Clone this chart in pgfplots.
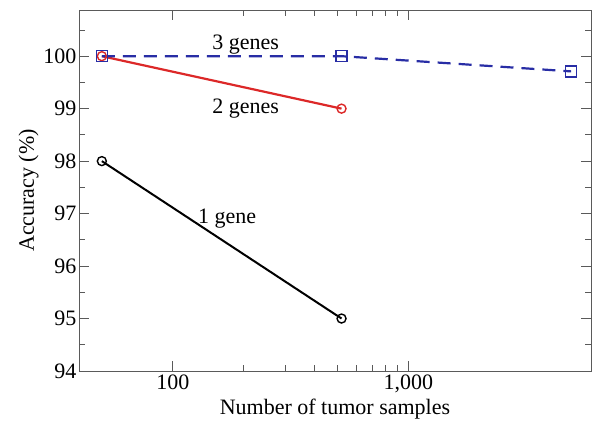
\documentclass[border=0pt]{standalone}
\usepackage{fontspec}
\setmainfont{Liberation Serif}
\usepackage{pgfplots}
\pgfplotsset{compat=1.18}
\definecolor{myred}{RGB}{220,40,40}
\definecolor{myblue}{RGB}{40,45,165}
\definecolor{axgray}{RGB}{90,90,90}
\begin{document}
\begin{tikzpicture}
\begin{axis}[
  name=ax,
  xmode=log,
  scale only axis,
  width=512pt, height=361pt,
  xmin=40, xmax=5950,
  ymin=94, ymax=100.88,
  xtick={100,1000},
  xticklabels={100,{1,000}},
  ytick={94,95,96,97,98,99,100},
  minor ytick={94.5,95.5,96.5,97.5,98.5,99.5,100.5},
  tick align=inside,
  major tick length=10pt,
  minor tick length=6pt,
  tick style={axgray, line width=0.8pt},
  axis line style={axgray, line width=0.9pt},
  /pgf/number format/assume math mode=true,
  ticklabel style={font=\fontsize{22}{24}\selectfont},
  xticklabel style={yshift=0pt},
  yticklabel style={xshift=1pt},
  label style={font=\fontsize{22}{24}\selectfont},
  xlabel={Number of tumor samples},
  ylabel={Accuracy (\%)},
  xlabel style={at={(axis description cs:0.5,0)}, anchor=north, yshift=-24pt},
  ylabel shift=-2pt,
  clip=false,
]
\addplot[black, line width=2pt, mark=o, mark size=4.5pt, mark options={line width=1.4pt}] coordinates {(50,98) (520,95)};
\addplot[myred, line width=2.2pt, mark=o, mark size=4.5pt, mark options={line width=1.4pt}] coordinates {(50,100) (520,99)};
\addplot[myblue, line width=2.2pt, dash pattern=on 13pt off 8pt, mark=square, mark size=5.5pt, mark options={solid, line width=1.5pt}] coordinates {(50,100) (520,100) (4900,99.71)};
\node[font=\fontsize{22}{24}\selectfont] at (axis cs:204,100.22) {3 genes};
\node[font=\fontsize{22}{24}\selectfont] at (axis cs:204,99.01) {2 genes};
\node[font=\fontsize{22}{24}\selectfont] at (axis cs:170,96.91) {1 gene};
\end{axis}
\pgfresetboundingbox
\path ([xshift=-79pt,yshift=-52pt]ax.south west) rectangle ([xshift=1pt,yshift=10pt]ax.north east);
\end{tikzpicture}
\end{document}
